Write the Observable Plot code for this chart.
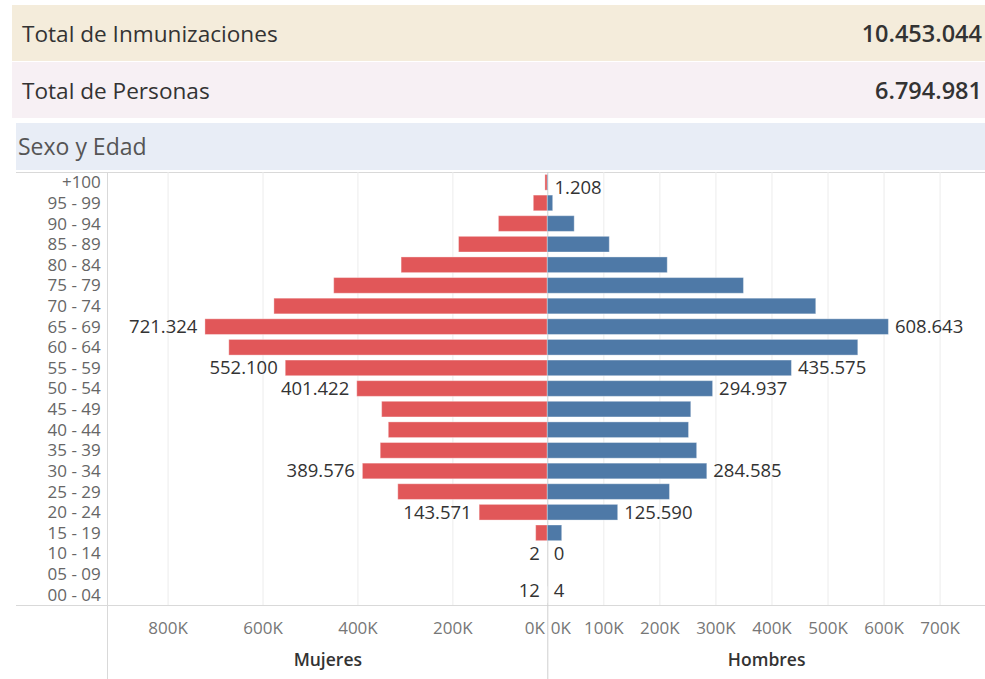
<!DOCTYPE html>
<html>
<head>
<meta charset="utf-8">
<script src="https://cdn.jsdelivr.net/npm/d3@7"></script>
<script src="https://cdn.jsdelivr.net/npm/@observablehq/plot@0.6"></script>
<style>
  html, body { margin: 0; padding: 0; background: #fff; }
  #root { position: relative; width: 985px; height: 679px; overflow: hidden; font-family: "Open Sans", sans-serif; }
  .box { position: absolute; left: 12px; right: 0; display: flex; align-items: center; justify-content: space-between; box-sizing: border-box; padding: 0 3px 0 10px; font-size: 22.6px; color: #333; }
  .box .v { font-weight: 600; font-size: 23.5px; color: #333; }
  .line { position: absolute; background: #d9d9d9; }
  .pane { position: absolute; top: 160px; }
</style>
</head>
<body>
<div id="root"></div>
<script>
// ---- data ----
const ages = ["+100", "95 - 99", "90 - 94", "85 - 89", "80 - 84", "75 - 79", "70 - 74", "65 - 69", "60 - 64",
  "55 - 59", "50 - 54", "45 - 49", "40 - 44", "35 - 39", "30 - 34", "25 - 29", "20 - 24", "15 - 19",
  "10 - 14", "05 - 09", "00 - 04"];
const mujeres = [5000, 29500, 103000, 187000, 308000, 450000, 576000, 721324, 671000,
  552100, 401422, 349000, 335000, 352000, 389576, 315000, 143571, 24500, 2, null, 12];
const hombres = [1208, 9600, 48000, 110600, 214000, 350000, 479000, 608643, 554000,
  435575, 294937, 256000, 252000, 266500, 284585, 218000, 125590, 25700, 0, null, 4];
const mujeresEtiquetadas = ["65 - 69", "55 - 59", "50 - 54", "30 - 34", "20 - 24", "10 - 14", "00 - 04"];
const hombresEtiquetados = ["+100", "65 - 69", "55 - 59", "50 - 54", "30 - 34", "20 - 24", "10 - 14", "00 - 04"];
const totalLabels = ["Total de Inmunizaciones", "Total de Personas"];
const totalValues = [10453044, 6794981];
const sectionTitle = "Sexo y Edad";
const ticksMujeres = [200000, 400000, 600000, 800000];
const ticksHombres = [100000, 200000, 300000, 400000, 500000, 600000, 700000];
const axisTitles = ["Mujeres", "Hombres"];

// ---- helpers ----
const es = d3.formatLocale({decimal: ",", thousands: ".", grouping: [3], currency: ["", ""]});
const fmt = es.format(",d");
const kfmt = d => (d / 1000) + "K";
const rows = ages.map((a, i) => ({age: a, m: mujeres[i], h: hombres[i]}));
const first = ages[0], last = ages[ages.length - 1];

const root = document.getElementById("root");

// header boxes
const boxes = [
  {top: 5, h: 56, bg: "#F4ECDB"},
  {top: 62, h: 56, bg: "#F7F0F4"}
];
totalLabels.forEach((lab, i) => {
  const d = document.createElement("div");
  d.className = "box";
  d.style.top = boxes[i].top + "px";
  d.style.height = boxes[i].h + "px";
  d.style.background = boxes[i].bg;
  d.innerHTML = `<span>${lab}</span><span class="v">${fmt(totalValues[i])}</span>`;
  root.appendChild(d);
});
const st = document.createElement("div");
st.className = "box";
st.style.cssText = "top:123px;height:47px;left:16px;background:#E8EDF6;color:#555;padding-left:2px;font-size:23px;padding-bottom:2px;";
st.textContent = sectionTitle;
root.appendChild(st);

// frame lines
[["16px", "172px", "969px", "1px"], ["16px", "605px", "969px", "1px"], ["107px", "172px", "1px", "507px"]]
  .forEach(([l, t, w, h]) => {
    const d = document.createElement("div");
    d.className = "line";
    d.style.cssText += `left:${l};top:${t};width:${w};height:${h};`;
    root.appendChild(d);
  });

const common = {
  height: 519,
  marginTop: 12,
  marginBottom: 74,
  style: {fontFamily: "Open Sans, sans-serif", fontSize: "17px", background: "transparent", overflow: "visible"},
  y: {type: "band", domain: ages, paddingInner: 0.24, paddingOuter: 0.12, round: false, axis: null}
};

// ---- left pane: Mujeres ----
const left = Plot.plot({
  ...common,
  width: 548,
  marginLeft: 107.3,
  marginRight: 0.7,
  x: {domain: [0, 927000], reverse: true, axis: null},
  marks: [
    Plot.gridX(ticksMujeres, {stroke: "#ececec", strokeOpacity: 1}),
    Plot.barX(rows.filter(d => d.m != null), {x: "m", y: "age", fill: "#E15759", stroke: "#fff", strokeOpacity: 0.35, strokeWidth: 1}),
    Plot.ruleX([0], {stroke: "#cfcfcf", insetBottom: -74}),
    Plot.axisY({tickSize: 0, tickPadding: 7, color: "#666", fontSize: 17, label: null}),
    Plot.axisX(ticksMujeres, {tickSize: 0, tickPadding: 16, tickFormat: kfmt, color: "#777", fontSize: 17, label: null}),
    Plot.axisX([0], {tickSize: 0, tickPadding: 16, tickFormat: kfmt, color: "#777", fontSize: 17, textAnchor: "end", dx: -3, label: null}),
    Plot.text(rows.filter(d => mujeresEtiquetadas.includes(d.age) && d.age !== last), {x: "m", y: "age", text: d => fmt(d.m), textAnchor: "end", dx: -8, fill: "#333", fontSize: 18.5}),
    Plot.text(rows.filter(d => mujeresEtiquetadas.includes(d.age) && d.age === last), {x: "m", y: "age", text: d => fmt(d.m), textAnchor: "end", dx: -8, dy: -4, fill: "#333", fontSize: 18.5}),
    Plot.text([axisTitles[0]], {frameAnchor: "bottom", dy: 60, text: d => d, fill: "#333", fontSize: 17.5, fontWeight: 600})
  ]
});
left.classList.add("pane");
left.style.left = "0px";
root.appendChild(left);

// ---- right pane: Hombres ----
const right = Plot.plot({
  ...common,
  width: 438,
  marginLeft: 0.3,
  marginRight: 0,
  x: {domain: [0, 781000], axis: null},
  marks: [
    Plot.gridX(ticksHombres, {stroke: "#ececec", strokeOpacity: 1}),
    Plot.barX(rows.filter(d => d.h != null), {x: "h", y: "age", fill: "#4E79A7", stroke: "#fff", strokeOpacity: 0.35, strokeWidth: 1}),
    Plot.axisX(ticksHombres, {tickSize: 0, tickPadding: 16, tickFormat: kfmt, color: "#777", fontSize: 17, label: null}),
    Plot.axisX([0], {tickSize: 0, tickPadding: 16, tickFormat: kfmt, color: "#777", fontSize: 17, textAnchor: "start", dx: 3, label: null}),
    Plot.text(rows.filter(d => hombresEtiquetados.includes(d.age) && d.age !== first && d.age !== last), {x: "h", y: "age", text: d => fmt(d.h), textAnchor: "start", dx: 6, fill: "#333", fontSize: 18.5}),
    Plot.text(rows.filter(d => hombresEtiquetados.includes(d.age) && d.age === first), {x: "h", y: "age", text: d => fmt(d.h), textAnchor: "start", dx: 6, dy: 5, fill: "#333", fontSize: 18.5}),
    Plot.text(rows.filter(d => hombresEtiquetados.includes(d.age) && d.age === last), {x: "h", y: "age", text: d => fmt(d.h), textAnchor: "start", dx: 6, dy: -4, fill: "#333", fontSize: 18.5}),
    Plot.text([axisTitles[1]], {frameAnchor: "bottom", dy: 60, text: d => d, fill: "#333", fontSize: 17.5, fontWeight: 600})
  ]
});
right.classList.add("pane");
right.style.left = "547px";
root.appendChild(right);
</script>
</body>
</html>
